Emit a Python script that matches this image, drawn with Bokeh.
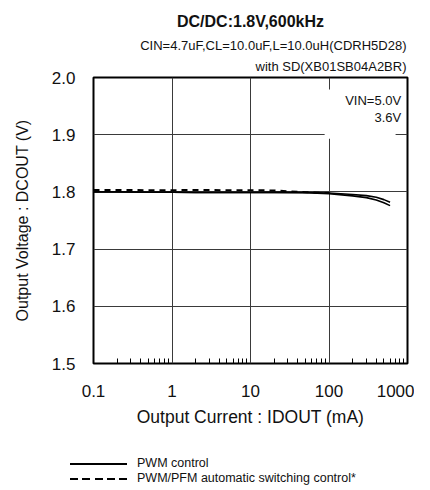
from bokeh.plotting import figure
from bokeh.models import (Label, BoxAnnotation, FixedTicker, ColumnDataSource, Title, Div)
from bokeh.layouts import column
from bokeh.embed import file_html
from bokeh.resources import INLINE

# ---- data ----
current_ma = [0.1, 0.2, 0.5, 1, 2, 5, 10, 20, 50, 100, 200, 300, 400, 500, 600]
pwm_vin50 = [1.800, 1.800, 1.7995, 1.7995, 1.799, 1.799, 1.799, 1.7995, 1.799, 1.798,
             1.7955, 1.7935, 1.7905, 1.7865, 1.782]
pwm_vin36 = [1.800, 1.800, 1.7995, 1.7995, 1.799, 1.799, 1.799, 1.799, 1.7985, 1.797,
             1.793, 1.790, 1.786, 1.781, 1.776]
pfm_current_ma = [0.1, 0.2, 0.5, 1, 2, 5, 10, 20, 30, 50, 100]
pfm_vout = [1.8035, 1.8035, 1.803, 1.803, 1.8035, 1.803, 1.803, 1.8025, 1.801, 1.7995, 1.798]

x_ticks = [0.1, 1, 10, 100, 1000]
x_tick_labels = ["0.1", "1", "10", "100", "1000"]
y_ticks = [1.5, 1.6, 1.7, 1.8, 1.9, 2.0]
y_tick_labels = ["1.5", "1.6", "1.7", "1.8", "1.9", "2.0"]
legend_labels = ["PWM control", "PWM/PFM automatic switching control*"]

FONT = "Liberation Sans"
TXT = "#111111"

p = figure(width=414, height=440, x_axis_type="log",
           x_range=(0.1, 1000), y_range=(1.5, 2.0),
           output_backend="svg", toolbar_location=None,
           min_border_left=93, min_border_right=7,
           min_border_top=77, min_border_bottom=77)
p.background_fill_color = "white"
p.border_fill_color = "white"
p.outline_line_color = "black"
p.outline_line_width = 2

# titles (first added sits closest to the plot)
p.add_layout(Title(text="with SD(XB01SB04A2BR)", align="right", offset=1, standoff=8,
                   text_font=FONT, text_font_size="13px", text_font_style="normal",
                   text_color=TXT), "above")
p.add_layout(Title(text="CIN=4.7uF,CL=10.0uF,L=10.0uH(CDRH5D28)", align="right", offset=1,
                   standoff=0, text_font=FONT, text_font_size="13px",
                   text_font_style="normal", text_color=TXT), "above")
p.add_layout(Title(text="DC/DC:1.8V,600kHz", align="center", offset=8, standoff=11,
                   text_font=FONT, text_font_size="16px", text_font_style="bold",
                   text_color=TXT), "above")

# axes
p.xaxis.ticker = FixedTicker(ticks=x_ticks,
                             minor_ticks=[m * d for d in [0.1, 1, 10, 100] for m in range(2, 10)])
p.xaxis.major_label_overrides = {t: l for t, l in zip(x_ticks, x_tick_labels)}
p.yaxis.ticker = FixedTicker(ticks=y_ticks)
p.yaxis.major_label_overrides = {t: l for t, l in zip(y_ticks, y_tick_labels)}

for ax in (p.xaxis[0], p.yaxis[0]):
    ax.axis_line_color = None
    ax.major_tick_line_color = None
    ax.major_tick_out = 0
    ax.major_tick_in = 0
    ax.major_label_text_font = FONT
    ax.major_label_text_font_size = "17px"
    ax.major_label_text_color = TXT
    ax.axis_label_text_font = FONT
    ax.axis_label_text_font_style = "normal"
    ax.axis_label_text_color = TXT

p.yaxis.minor_tick_line_color = None
p.yaxis.minor_tick_out = 0
p.yaxis.minor_tick_in = 0
p.xaxis.minor_tick_line_color = "black"
p.xaxis.minor_tick_line_width = 1
p.xaxis.minor_tick_in = 5
p.xaxis.minor_tick_out = 0
p.xaxis.major_label_standoff = 21
p.yaxis.major_label_standoff = 18
p.xaxis.axis_label = "Output Current : IDOUT (mA)"
p.yaxis.axis_label = "Output Voltage : DCOUT (V)"
p.xaxis.axis_label_text_font_size = "17.5px"
p.yaxis.axis_label_text_font_size = "16px"
p.xaxis.axis_label_standoff = 7
p.yaxis.axis_label_standoff = 18

p.xgrid.grid_line_color = "#3a3a3a"
p.ygrid.grid_line_color = "#3a3a3a"
p.xgrid.grid_line_width = 1
p.ygrid.grid_line_width = 1

# curves
src = ColumnDataSource(dict(x=current_ma, v50=pwm_vin50, v36=pwm_vin36))
r1 = p.line("x", "v50", source=src, line_color="black", line_width=1.6)
r2 = p.line("x", "v36", source=src, line_color="black", line_width=1.6)
r3 = p.line(pfm_current_ma, pfm_vout, line_color="black", line_width=2, line_dash="6 5")

# white box with VIN labels
p.add_layout(BoxAnnotation(left=88, right=705, bottom=1.893, top=1.979,
                           fill_color="white", fill_alpha=1.0, line_color=None))
p.add_layout(Label(x=830, y=1.960, text="VIN=5.0V", text_align="right",
                   text_baseline="middle", text_font=FONT,
                   text_font_size="13px", text_color=TXT))
p.add_layout(Label(x=830, y=1.930, text="3.6V", text_align="right",
                   text_baseline="middle", text_font=FONT,
                   text_font_size="13px", text_color=TXT))

# legend strip underneath the chart
row_css = "display:flex;align-items:center;height:15px;white-space:nowrap;"
sample_solid = ("<span style='display:inline-block;width:57px;height:2px;"
                "background:#000;margin-left:70px;margin-right:10px'></span>")
sample_dash = ("<span style='display:inline-block;width:57px;height:2px;margin-left:70px;"
               "margin-right:10px;background:repeating-linear-gradient(90deg,#000 0 8px,"
               "transparent 8px 12.3px)'></span>")
legend_html = (
    f"<div style=\"padding-top:16px;font-family:'{FONT}';font-size:12.5px;color:{TXT};\">"
    f"<div style='{row_css}'>{sample_solid}{legend_labels[0]}</div>"
    f"<div style='{row_css}'>{sample_dash}{legend_labels[1]}</div>"
    "</div>")
legend_div = Div(text=legend_html, width=414, height=46, margin=0)

layout = column(p, legend_div, spacing=0)
open("out.html", "w").write(file_html(layout, INLINE))
